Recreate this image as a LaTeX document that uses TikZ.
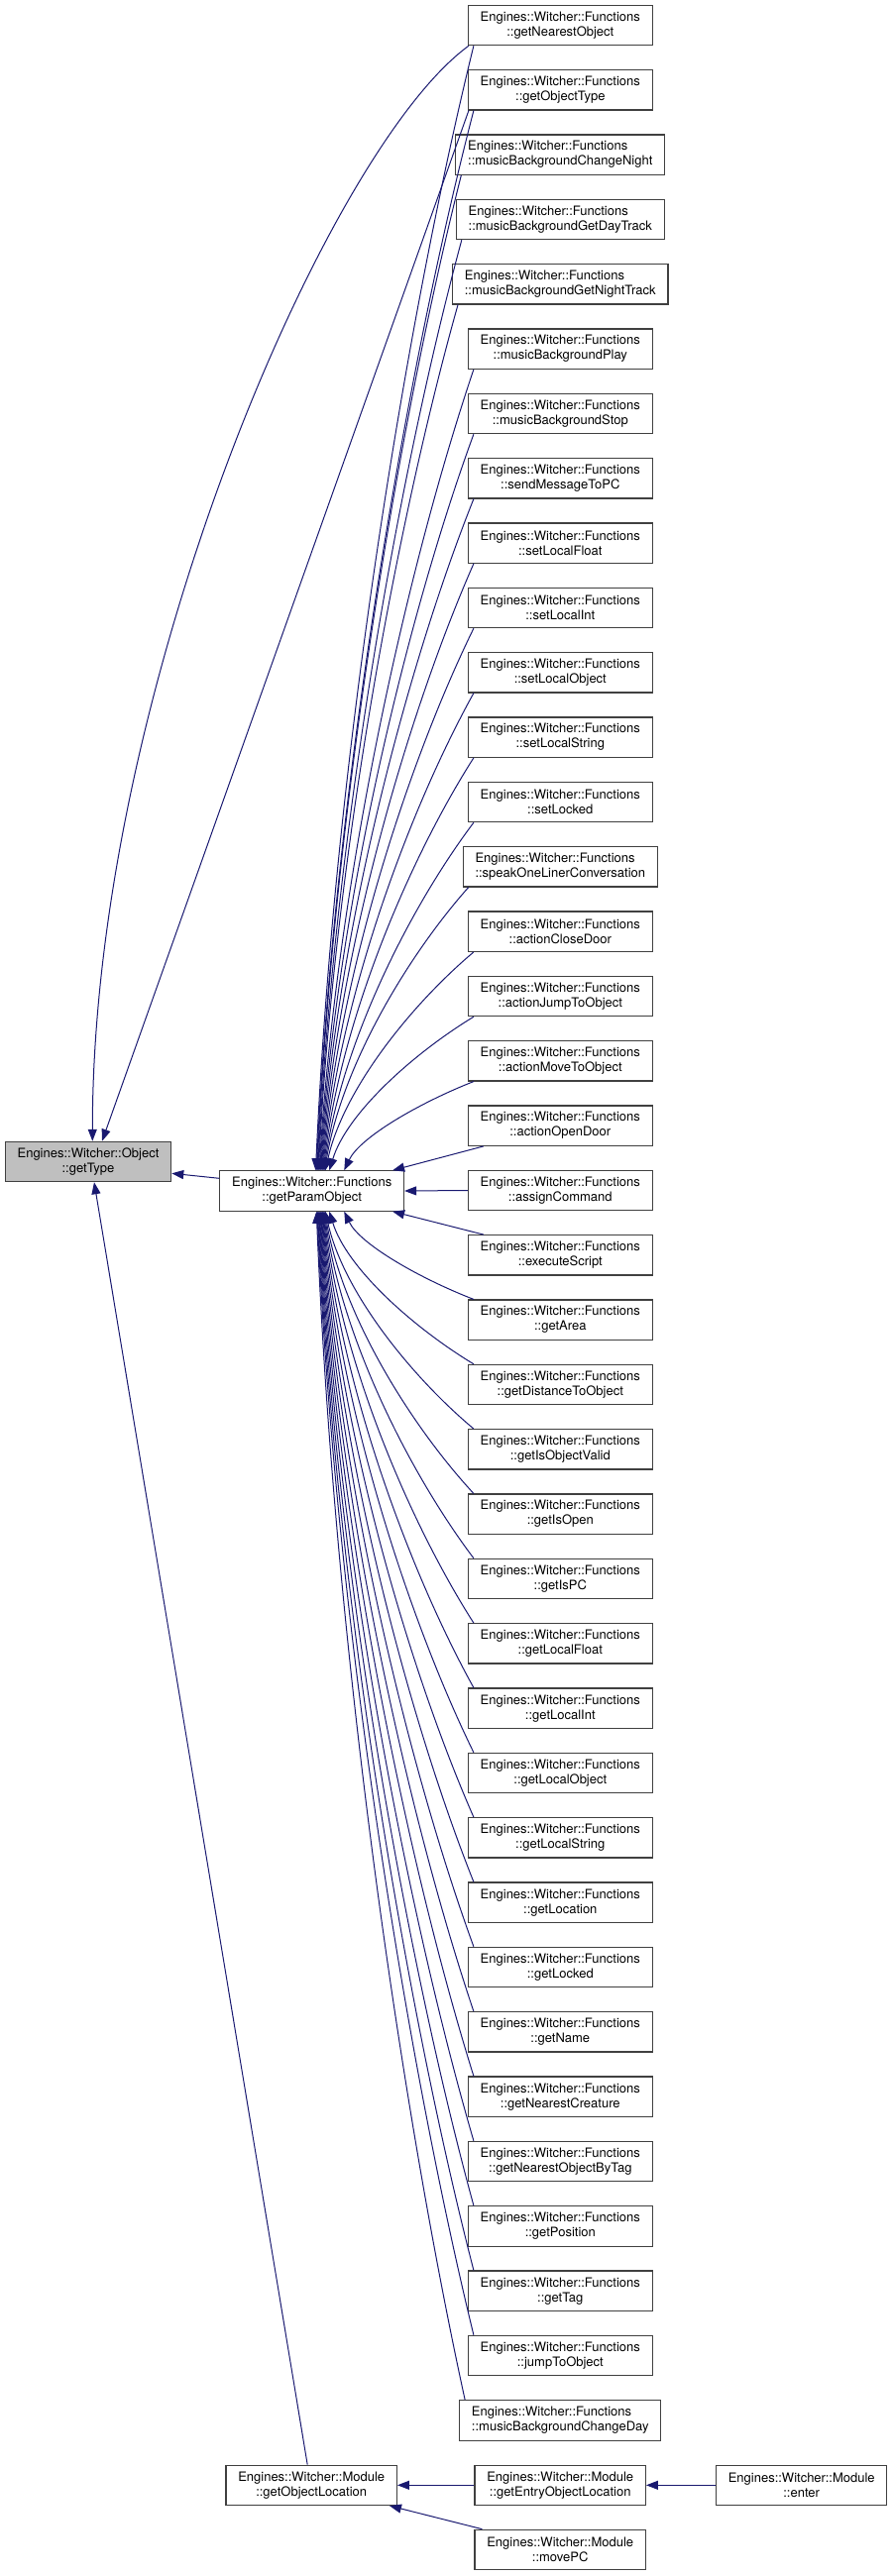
\documentclass[tikz,border=0pt]{standalone}
\usepackage{fontspec}
\setmainfont{TeX Gyre Heros}
\usetikzlibrary{calc,arrows.meta}
\definecolor{navy}{HTML}{191970}
\definecolor{boxline}{HTML}{404040}
\newcommand\dfont{\fontsize{13bp}{15bp}\selectfont}
\tikzset{
  gbox/.style={draw=boxline, line width=1.1bp, fill=white, minimum height=40.4bp,
    inner xsep=12.3bp, inner ysep=0pt, align=center, font=\dfont, text=black},
  calledge/.style={draw=navy, line width=1bp, -{Triangle[length=12bp,width=9bp]}},
}
\begin{document}
\begin{tikzpicture}[x=1bp,y=-1bp]
\useasboundingbox (0,0) rectangle (900,2600);
% callee nodes
\node[gbox, fill=black!25] (gtype) at (89,1172.5) {Engines::Witcher::Object\\::getType};
\node[gbox] (pobj) at (314.7,1202) {Engines::Witcher::Functions\\::getParamObject};
% callers in Functions
\foreach \i/\nm/\al in {0/getNearestObject/center,1/getObjectType/center,
  2/musicBackgroundChangeNight/left,3/musicBackgroundGetDayTrack/left,
  4/musicBackgroundGetNightTrack/left,5/musicBackgroundPlay/center,
  6/musicBackgroundStop/center,7/sendMessageToPC/center,8/setLocalFloat/center,
  9/setLocalInt/center,10/setLocalObject/center,11/setLocalString/center,
  12/setLocked/center,13/speakOneLinerConversation/left,14/actionCloseDoor/center,
  15/actionJumpToObject/center,16/actionMoveToObject/center,17/actionOpenDoor/center,
  18/assignCommand/center,19/executeScript/center,20/getArea/center,
  21/getDistanceToObject/center,22/getIsObjectValid/center,23/getIsOpen/center,
  24/getIsPC/center,25/getLocalFloat/center,26/getLocalInt/center,
  27/getLocalObject/center,28/getLocalString/center,29/getLocation/center,
  30/getLocked/center,31/getName/center,32/getNearestCreature/center,
  33/getNearestObjectByTag/center,34/getPosition/center,35/getTag/center,
  36/jumpToObject/center,37/musicBackgroundChangeDay/left}{
  \node[gbox, align=\al] (f\i) at (565.3,{25.5+65.333*\i}) {Engines::Witcher::Functions\\::\nm};
}
% module nodes
\node[gbox] (gol) at (314.2,2508.3) {Engines::Witcher::Module\\::getObjectLocation};
\node[gbox] (geol) at (565.2,2508.3) {Engines::Witcher::Module\\::getEntryObjectLocation};
\node[gbox] (movepc) at (565.2,2573.4) {Engines::Witcher::Module\\::movePC};
\node[gbox] (enter) at (808.7,2508.3) {Engines::Witcher::Module\\::enter};
% edges to getParamObject from above
\foreach \i/\ex in {0/318.2,1/318.9,2/319.6,3/320.3,4/321.0,5/321.7,6/322.4,7/323.1,
  8/323.8,9/324.5,10/325.2,11/325.9,12/326.6,13/327.3,14/328.0,15/332,16/347}{
  \pgfmathsetmacro\exo{\ex-221}
  \draw[calledge] let \p1=($(f\i.south west)+(6,0)$), \p2=($(pobj.north west)+(\exo,0)$) in
    (\p1) .. controls ({\x1+0.42*(\x2-\x1)},{\y1+0.24*(\y2-\y1)})
    and ({\x2-0.12*(\x2-\x1)},{\y2-0.37*(\y2-\y1)}) .. (\p2);
}
% edges to getParamObject from below
\foreach \i/\ex in {20/347,21/332,22/328.0,23/327.4,24/326.8,25/326.2,26/325.6,27/325.0,
  28/324.4,29/323.8,30/323.2,31/322.6,32/322.0,33/321.4,34/320.8,35/320.2,36/319.6,37/319.0}{
  \pgfmathsetmacro\exo{\ex-221}
  \draw[calledge] let \p1=($(f\i.north west)+(6,0)$), \p2=($(pobj.south west)+(\exo,0)$) in
    (\p1) .. controls ({\x1+0.42*(\x2-\x1)},{\y1+0.24*(\y2-\y1)})
    and ({\x2-0.12*(\x2-\x1)},{\y2-0.37*(\y2-\y1)}) .. (\p2);
}
\draw[calledge] ($(f17.south west)+(16,0)$) -- ($(pobj.north east)+(-12,0)$);
\draw[calledge] (f18.west) -- (pobj.east);
\draw[calledge] ($(f19.north west)+(16,0)$) -- ($(pobj.south east)+(-12,0)$);
% edges to getType
\draw[calledge] ($(pobj.west)+(0,-12.7)$) -- ($(gtype.east)+(0,11.8)$);
\draw[calledge] ($(f0.south west)+(1,0)$) .. controls (330,150) and (93,700) .. ($(gtype.north)+(4.3,0)$);
\draw[calledge] ($(f1.south west)+(1,0)$) -- ($(gtype.north)+(14,0)$);
\draw[calledge] ($(gol.north)+(-4,0)$) -- ($(gtype.south)+(6,0)$);
% module edges
\draw[calledge] (geol.west) -- (gol.east);
\draw[calledge] (enter.west) -- (geol.east);
\draw[calledge] ($(movepc.north west)+(8,0)$) -- ($(gol.south east)+(-8,0)$);
\end{tikzpicture}
\end{document}
